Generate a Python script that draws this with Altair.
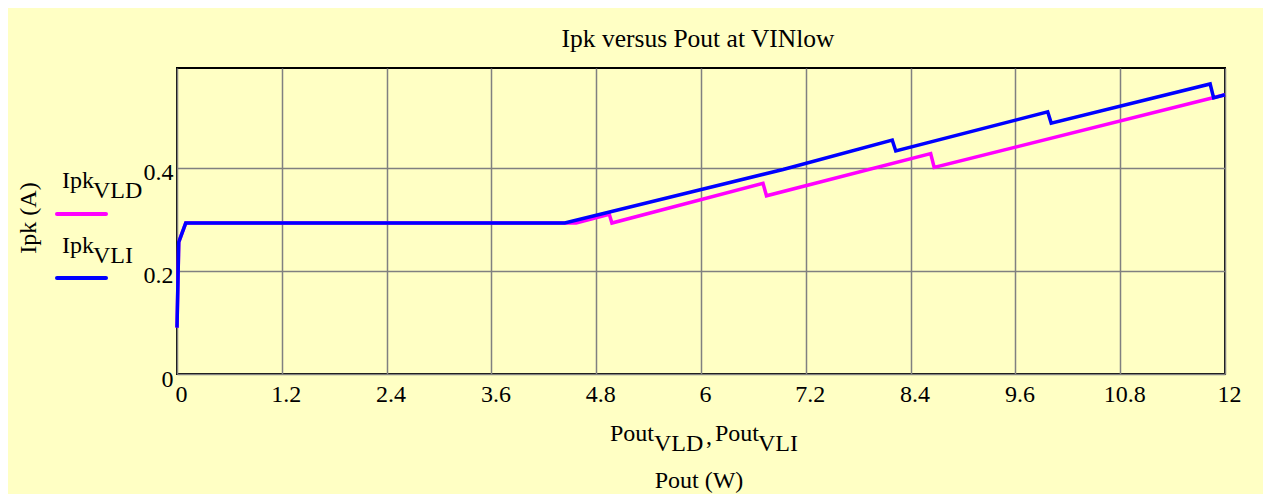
import altair as alt
import pandas as pd

# Series
vld_x = [0.0, 0.02, 0.10, 4.57, 4.95, 4.98, 6.71, 6.75, 8.63, 8.67, 12.0]
vld_y = [0.090, 0.256, 0.293, 0.293, 0.310, 0.293, 0.370, 0.346, 0.428, 0.401, 0.542]

vli_x = [0.0, 0.02, 0.10, 4.44, 6.94, 8.19, 8.23, 9.97, 10.01, 11.83, 11.87, 12.0]
vli_y = [0.090, 0.256, 0.293, 0.293, 0.397, 0.454, 0.433, 0.509, 0.487, 0.563, 0.536, 0.542]

x_ticks = [0, 1.2, 2.4, 3.6, 4.8, 6, 7.2, 8.4, 9.6, 10.8, 12]
y_ticks = [0, 0.2, 0.4]
y_max = 0.594

FONT = "Liberation Serif"
BG = "#FFFFC4"
W, H = 1048, 306
FS = 24

vld = pd.DataFrame({"x": vld_x, "y": vld_y, "i": range(len(vld_x))})
vli = pd.DataFrame({"x": vli_x, "y": vli_y, "i": range(len(vli_x))})

xs = alt.Scale(domain=[0, 12], nice=False, zero=False)
ys = alt.Scale(domain=[0, y_max], nice=False)

xaxis = alt.Axis(values=x_ticks, format=".1~f", title=None, grid=True, gridColor="#808080",
                 gridWidth=1.5, domain=False, ticks=False, labelFont=FONT, labelFontSize=FS,
                 labelColor="black", labelPadding=8, labelOffset=4, labelFlush=False)
yaxis = alt.Axis(values=y_ticks, format="~g", title=None, grid=True, gridColor="#808080",
                 gridWidth=1.5, domain=False, ticks=False, labelFont=FONT, labelFontSize=FS,
                 labelColor="black", labelPadding=4, labelOffset=5, labelFlush=False)

mag = alt.Chart(vld).mark_line(color="#FF00FF", strokeWidth=3.5, strokeJoin="miter").encode(
    x=alt.X("x:Q", scale=xs, axis=xaxis),
    y=alt.Y("y:Q", scale=ys, axis=yaxis),
    order="i:Q",
)
blu = alt.Chart(vli).mark_line(color="#0000FF", strokeWidth=3.5, strokeJoin="miter").encode(
    x=alt.X("x:Q", scale=xs),
    y=alt.Y("y:Q", scale=ys),
    order="i:Q",
)

def txt(s, x, y, size=FS, align="left", angle=0, baseline="alphabetic"):
    return alt.Chart(pd.DataFrame({"t": [s]})).mark_text(
        font=FONT, fontSize=size, color="black", align=align, baseline=baseline, angle=angle
    ).encode(text="t:N", x=alt.value(x), y=alt.value(y))

def seg(color, x1, x2, y):
    return alt.Chart(pd.DataFrame({"a": [0]})).mark_rule(
        color=color, strokeWidth=4, strokeCap="round"
    ).encode(x=alt.value(x1), x2=alt.value(x2), y=alt.value(y))

annots = [
    txt("Ipk versus Pout at VINlow", 521, -21, size=25.5, align="center"),
    txt("Ipk (A)", -148, 150, angle=270, align="center", baseline="middle"),
    txt("Ipk", -115, 120), txt("VLD", -84, 130),
    seg("#FF00FF", -120, -71, 146),
    txt("Ipk", -115, 185), txt("VLI", -84, 195),
    seg("#0000FF", -120, -71, 210),
    txt("Pout", 433, 373), txt("VLD", 477, 383), txt(",", 529, 376),
    txt("Pout", 538, 373), txt("VLI", 581, 383),
    txt("Pout (W)", 522, 420, align="center"),
]

chart = alt.layer(mag, blu, *annots).properties(
    width=W, height=H, background=BG,
    padding={"left": 169, "top": 60, "right": 38, "bottom": 120},
    autosize=alt.AutoSizeParams(type="none"),
).configure_view(stroke="black", strokeWidth=2, fill=BG)

chart.save("out.html", embed_options={"renderer": "svg", "actions": False})
